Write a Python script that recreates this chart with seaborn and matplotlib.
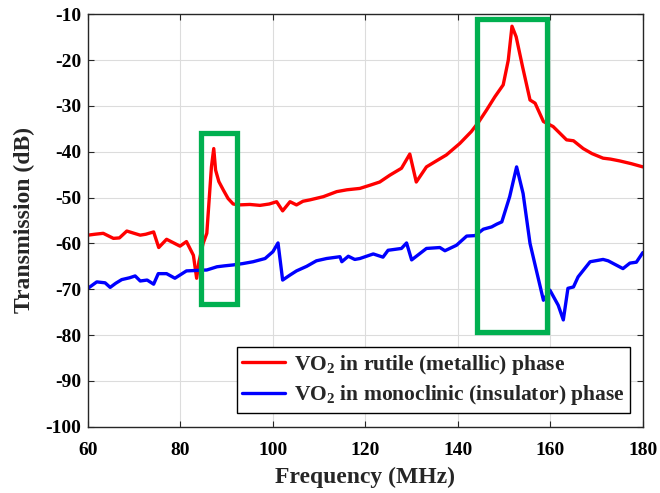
import matplotlib
matplotlib.use("Agg")
import matplotlib.pyplot as plt
import matplotlib.patches as patches
import seaborn as sns
import pandas as pd

# Measured transmission, VO2 in rutile (metallic) phase
freq_rutile = [60, 61.5, 63.3, 65.5, 66.8, 68.4, 70, 71.3, 72.5, 74.2, 75.3, 77, 79.9, 81.3,
               82.8, 83.5, 84.0, 84.9, 85.7, 86.7, 87.2, 87.6, 88.3, 89.3, 90.3, 91.4, 92.6,
               95, 97.2, 99.2, 100.8, 102.1, 103.7, 105.1, 106.5, 108, 110.9, 113.8, 116,
               118.8, 121, 123.1, 125.3, 127.8, 129.6, 131.0, 133.2, 135.5, 137.5, 140.4,
               142.9, 144.5, 146.2, 148.0, 149.8, 150.9, 151.7, 152.6, 154.0, 155.6, 156.7,
               158.5, 160.6, 163.5, 165, 167.1, 169, 171.4, 173, 175, 177.5, 180]
db_rutile = [-58.2, -58.0, -57.8, -58.9, -58.8, -57.3, -57.8, -58.2, -58.0, -57.5, -60.9, -59.1,
             -60.6, -59.6, -62.6, -67.6, -64.0, -60.0, -57.8, -43.3, -39.3, -44.0, -46.5, -48.4,
             -50.2, -51.4, -51.6, -51.5, -51.7, -51.4, -50.9, -52.9, -50.9, -51.6, -50.8, -50.5,
             -49.8, -48.7, -48.3, -48.0, -47.3, -46.6, -45.1, -43.6, -40.5, -46.6, -43.3, -41.9,
             -40.7, -38.2, -35.6, -33.5, -30.9, -28.0, -25.4, -20.0, -12.6, -14.9, -21.5, -28.7,
             -29.4, -33.4, -34.5, -37.4, -37.6, -39.3, -40.4, -41.4, -41.6, -42.0, -42.6, -43.3]

# Measured transmission, VO2 in monoclinic (insulator) phase
freq_mono = [60, 61.9, 63.7, 64.8, 66, 67.3, 69, 70.2, 71.3, 72.8, 74.2, 75.2, 77, 78.8, 81.3,
             83.5, 85.7, 87.9, 89.5, 91.4, 93.5, 95.7, 98.3, 100.0, 101.1, 102.1, 103.7, 105.1,
             107.3, 109.4, 111.6, 114.5, 114.9, 116.3, 117.7, 118.8, 121.7, 123.8, 124.9, 127.8,
             128.9, 130.0, 133.2, 136.1, 137.2, 139.7, 141.9, 143.7, 145.5, 147.3, 148.4, 149.5,
             151.2, 152.7, 154.1, 155.6, 157, 158.5, 159.9, 161.7, 162.8, 163.8, 165, 166, 168.6,
             171.4, 172.5, 175.7, 177.2, 178.6, 180]
db_mono = [-69.8, -68.4, -68.6, -69.6, -68.7, -67.9, -67.5, -67.1, -68.2, -68.0, -68.9, -66.6,
           -66.6, -67.6, -66.0, -65.9, -65.8, -65.1, -64.9, -64.7, -64.4, -64.0, -63.3, -61.8,
           -59.9, -68.0, -66.9, -66.0, -65.0, -63.8, -63.3, -62.9, -64.0, -62.8, -63.5, -63.3,
           -62.3, -63.0, -61.5, -61.1, -59.9, -63.6, -61.1, -60.9, -61.6, -60.4, -58.4, -58.3,
           -56.9, -56.4, -55.8, -55.3, -49.8, -43.3, -49.1, -60.0, -66.0, -72.4, -70.2, -73.5,
           -76.7, -69.8, -69.5, -67.3, -64.0, -63.5, -63.8, -65.5, -64.3, -64.1, -62.0]

# Highlighted resonance regions: (f_min, f_max, dB_min, dB_max)
highlight_boxes = [(84.4, 92.2, -73.3, -36.0), (144.2, 159.3, -79.4, -11.1)]

label_rutile = r"VO$_2$ in rutile (metallic) phase"
label_mono = r"VO$_2$ in monoclinic (insulator) phase"

x_ticks = [60, 80, 100, 120, 140, 160, 180]
y_ticks = [-100, -90, -80, -70, -60, -50, -40, -30, -20, -10]

df = pd.concat([
    pd.DataFrame({"Frequency": freq_rutile, "dB": db_rutile, "phase": label_rutile}),
    pd.DataFrame({"Frequency": freq_mono, "dB": db_mono, "phase": label_mono}),
])

sns.set_theme(style="whitegrid")
plt.rcParams["font.family"] = ["Liberation Serif", "DejaVu Serif"]
plt.rcParams["font.weight"] = "bold"
plt.rcParams["axes.unicode_minus"] = False
plt.rcParams["mathtext.fontset"] = "custom"
plt.rcParams["mathtext.rm"] = "Liberation Serif:bold"
plt.rcParams["mathtext.it"] = "Liberation Serif:bold"
plt.rcParams["mathtext.bf"] = "Liberation Serif:bold"

fig = plt.figure(figsize=(6.6, 4.93), dpi=100)
ax = fig.add_axes([0.1333, 0.1345, 0.8407, 0.8365])

sns.lineplot(data=df, x="Frequency", y="dB", hue="phase", sort=False,
             palette={label_rutile: "#ff0000", label_mono: "#0000ff"},
             linewidth=2.4, ax=ax, estimator=None)

for f0, f1, d0, d1 in highlight_boxes:
    ax.add_patch(patches.Rectangle((f0, d0), f1 - f0, d1 - d0, fill=False,
                                   edgecolor="#00b050", linewidth=3.8, zorder=5))

ax.set_xlim(60, 180)
ax.set_ylim(-100, -10)
ax.set_xticks(x_ticks)
ax.set_yticks(y_ticks)
ax.set_xlabel("Frequency (MHz)", fontsize=17, fontweight="bold", labelpad=6)
ax.set_ylabel("Transmission (dB)", fontsize=17, fontweight="bold", labelpad=7)
ax.tick_params(direction="in", length=4, width=0.8, colors="#262626", labelsize=14,
               top=True, right=True, bottom=True, left=True)
ax.tick_params(axis="x", pad=11)
ax.tick_params(axis="y", pad=5)
for lab in ax.get_xticklabels() + ax.get_yticklabels():
    lab.set_fontweight("bold")
    lab.set_color("black")
ax.grid(True, color="#dcdcdc", linewidth=0.8)
for sp in ax.spines.values():
    sp.set_color("#262626")
    sp.set_linewidth(1.0)
ax.set_facecolor("white")

leg = ax.legend(loc="lower right", bbox_to_anchor=(0.977, 0.034), frameon=True, fancybox=False,
                edgecolor="black", framealpha=1, fontsize=15.5, handlelength=2.0,
                borderpad=0.25, labelspacing=0.3, handletextpad=0.4, borderaxespad=0)
leg.get_frame().set_linewidth(1.0)
for t in leg.get_texts():
    t.set_fontweight("bold")

fig.savefig("out.png", dpi=100)
